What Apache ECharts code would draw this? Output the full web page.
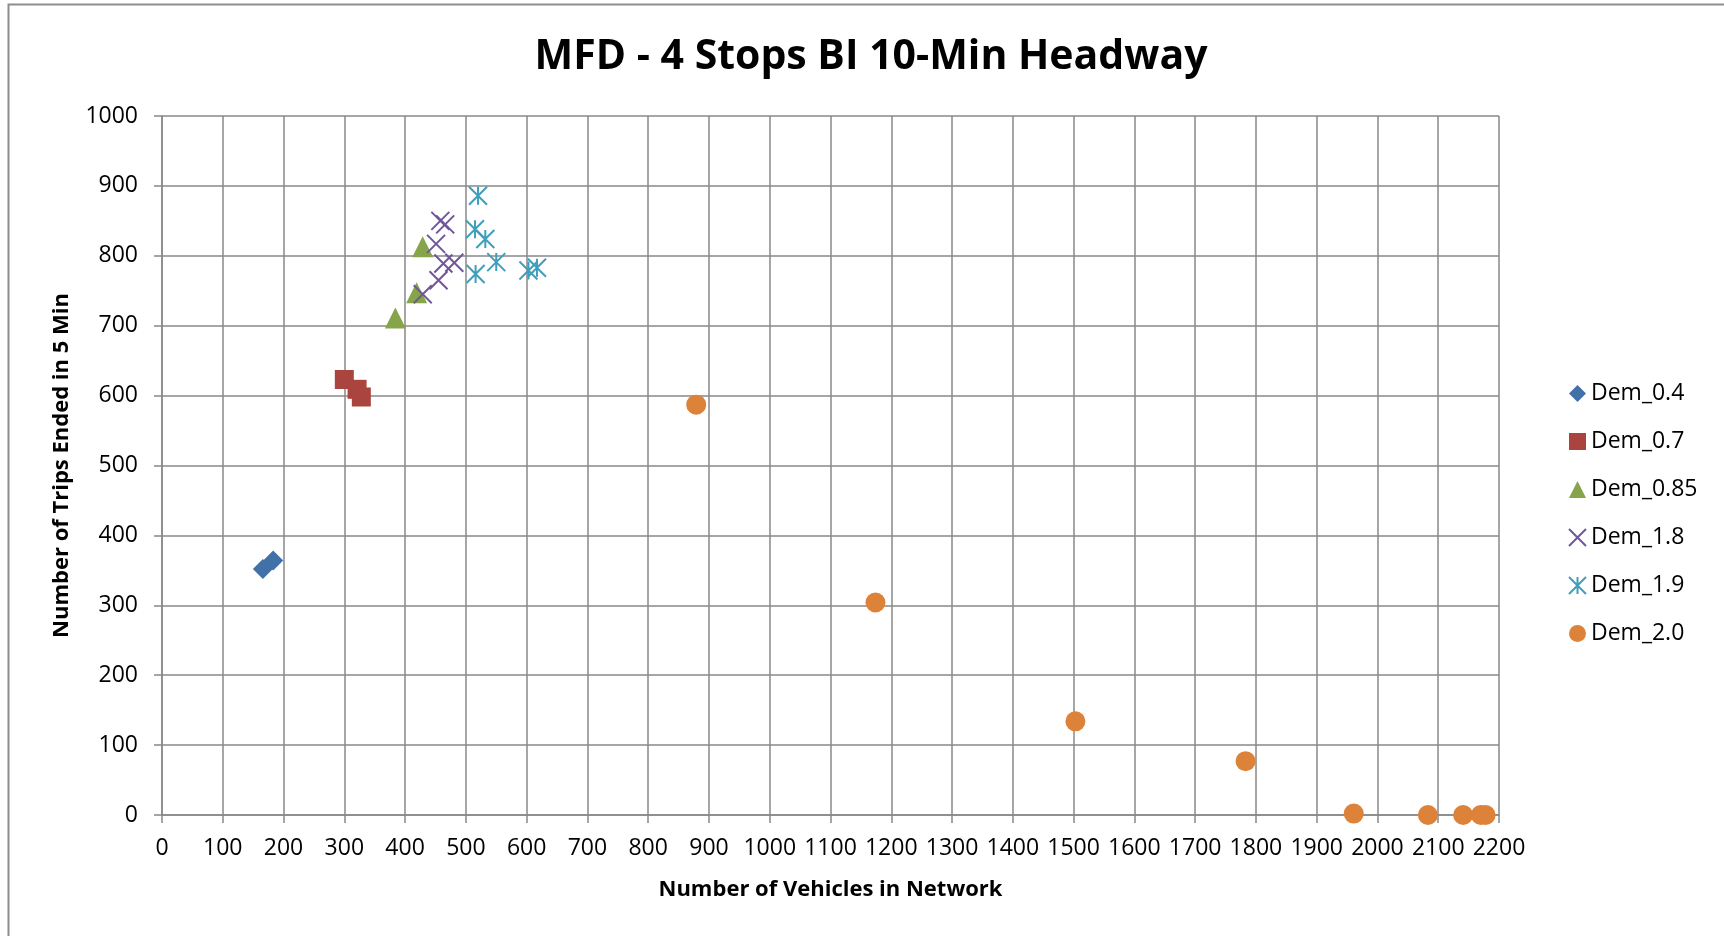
<!DOCTYPE html>
<html>
<head>
<meta charset="utf-8">
<script src="https://cdn.jsdelivr.net/npm/echarts@6/dist/echarts.min.js"></script>
<style>
html,body{margin:0;padding:0;background:#fff;}
#chart{width:1724px;height:936px;}
</style>
</head>
<body>
<div id="chart"></div>
<script>
// Data: [vehicles in network, trips ended in 5 min]
const dem04 = [[166, 352], [183, 364]];
const dem07 = [[300, 623], [321, 609], [328, 598]];
const dem085 = [[429, 813], [419, 747], [384, 711]];
const dem18 = [[458, 850], [466, 845], [451, 817], [463, 789], [481, 790], [455, 765], [429, 745]];
const dem19 = [[520, 886], [515, 838], [532, 824], [550, 791], [516, 774], [603, 779], [617, 783]];
const dem20 = [[879, 587], [1174, 304], [1503, 134], [1783, 77], [1961, 2], [2083, 0], [2141, 0], [2170, 0], [2178, 0]];
const seriesNames = ['Dem_0.4', 'Dem_0.7', 'Dem_0.85', 'Dem_1.8', 'Dem_1.9', 'Dem_2.0'];
const titleText = 'MFD - 4 Stops BI 10-Min Headway';
const xTitle = 'Number of Vehicles in Network';
const yTitle = 'Number of Trips Ended in 5 Min';

const FONT = "'Open Sans', 'DejaVu Sans', sans-serif";
const gridColor = '#888888';

const chart = echarts.init(document.getElementById('chart'));
const xPath = 'path://M0,0L10,10M10,0L0,10';
const starPath = 'path://M0,0L10,10M10,0L0,10M5,0L5,10';
const plain = v => String(v);

chart.setOption({
  backgroundColor: '#ffffff',
  animation: false,
  title: {
    text: titleText,
    left: 866,
    top: 32,
    textAlign: 'center',
    textStyle: { fontFamily: FONT, fontWeight: 'bold', fontSize: 41, color: '#000' }
  },
  graphic: [{
    type: 'rect',
    shape: { x: 8.5, y: 4.5, width: 2000, height: 2000 },
    style: { fill: 'none', stroke: '#8d8d8d', lineWidth: 2 },
    silent: true
  }],
  legend: {
    orient: 'vertical',
    left: 1563,
    top: 377,
    itemWidth: 17,
    itemHeight: 17,
    itemGap: 25,
    textStyle: { fontFamily: FONT, fontSize: 23, color: '#000', lineHeight: 23 },
    data: seriesNames
  },
  grid: { left: 162, right: 225, top: 116, bottom: 121, containLabel: false },
  xAxis: {
    type: 'value', min: 0, max: 2200, interval: 100,
    name: xTitle, nameLocation: 'middle', nameGap: 64,
    nameTextStyle: { fontFamily: FONT, fontWeight: 'bold', fontSize: 22, color: '#000' },
    axisLine: { show: true, onZero: false, lineStyle: { color: gridColor, width: 1.5 } },
    axisTick: { show: true, inside: false, length: 8, lineStyle: { color: gridColor, width: 1.5 } },
    axisLabel: { margin: 22, fontFamily: FONT, fontSize: 23, color: '#000', formatter: plain },
    splitLine: { show: true, lineStyle: { color: gridColor, width: 1.5 } }
  },
  yAxis: {
    type: 'value', min: 0, max: 1000, interval: 100,
    name: yTitle, nameLocation: 'middle', nameGap: 89, nameRotate: 90,
    nameTextStyle: { fontFamily: FONT, fontWeight: 'bold', fontSize: 22, color: '#000' },
    axisLine: { show: true, onZero: false, lineStyle: { color: gridColor, width: 1.5 } },
    axisTick: { show: true, inside: false, length: 8, lineStyle: { color: gridColor, width: 1.5 } },
    axisLabel: { margin: 24, fontFamily: FONT, fontSize: 23, color: '#000', formatter: plain },
    splitLine: { show: true, lineStyle: { color: gridColor, width: 1.5 } }
  },
  series: [
    { name: seriesNames[0], type: 'scatter', data: dem04, symbol: 'diamond', symbolSize: 20,
      itemStyle: { color: '#4271AA', opacity: 1 } },
    { name: seriesNames[1], type: 'scatter', data: dem07, symbol: 'rect', symbolSize: 19,
      itemStyle: { color: '#A9443F', opacity: 1 } },
    { name: seriesNames[2], type: 'scatter', data: dem085, symbol: 'triangle', symbolSize: 21,
      itemStyle: { color: '#86A54A', opacity: 1 } },
    { name: seriesNames[3], type: 'scatter', data: dem18, symbol: xPath, symbolSize: 18,
      itemStyle: { color: 'rgba(0,0,0,0)', borderColor: '#71569A', borderWidth: 2, opacity: 1 } },
    { name: seriesNames[4], type: 'scatter', data: dem19, symbol: starPath, symbolSize: 18,
      itemStyle: { color: 'rgba(0,0,0,0)', borderColor: '#3F9FBA', borderWidth: 2, opacity: 1 } },
    { name: seriesNames[5], type: 'scatter', data: dem20, symbol: 'circle', symbolSize: 20,
      itemStyle: { color: '#DD8239', opacity: 1 } }
  ]
});
</script>
</body>
</html>
